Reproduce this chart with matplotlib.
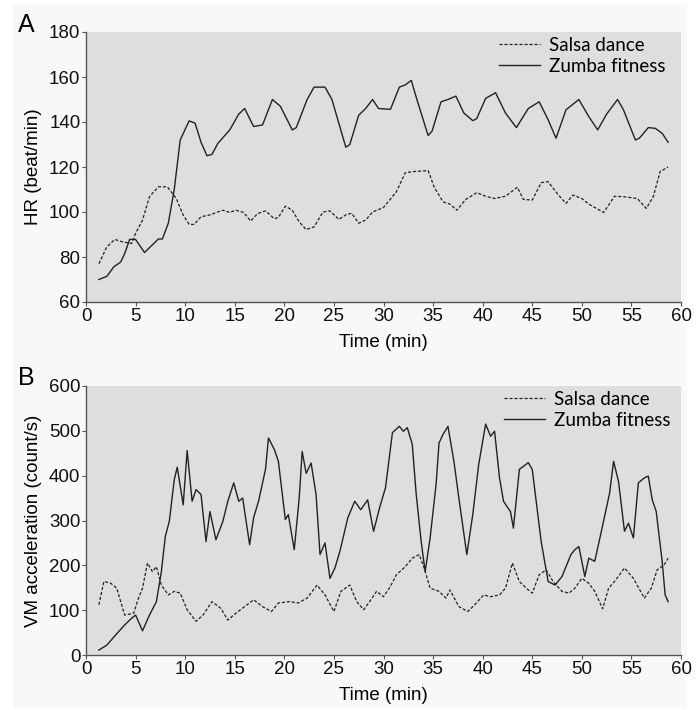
import matplotlib.pyplot as plt
from matplotlib.patches import Rectangle

# painel A - frequência cardíaca (HR)
hr_zumba_t = [1.3, 2.1, 2.8, 3.5, 3.9, 4.4, 5.0, 5.9, 6.6, 7.3, 7.7, 8.3, 8.9, 9.5, 10.4,
              11.0, 11.6, 12.2, 12.7, 13.3, 14.5, 15.4, 16.0, 16.9, 17.8, 18.8, 19.6, 20.8,
              21.2, 22.3, 23.0, 24.1, 24.8, 26.2, 26.6, 27.5, 28.2, 28.9, 29.5, 30.7, 31.6,
              32.2, 32.8, 33.3, 34.5, 34.9, 35.8, 36.5, 37.3, 38.1, 39.0, 39.4, 40.3, 41.3,
              42.3, 43.4, 44.6, 45.7, 46.6, 47.4, 48.4, 49.7, 50.7, 51.6, 52.5, 53.6, 54.2,
              55.4, 55.8, 56.7, 57.4, 58.1, 58.7]
hr_zumba = [70, 71.4, 75.6, 77.8, 81.5, 87.8, 87.8, 82, 85, 88, 88, 95, 110, 132, 140.5,
            139.5, 131, 125, 125.6, 130.5, 136.5, 143.5, 146, 138, 138.7, 150, 147, 136.5,
            137.5, 150, 155.5, 155.5, 150, 128.8, 130, 143, 146, 150, 146, 145.6, 155.5,
            156.5, 158.5, 151, 134, 136, 149, 150, 151.5, 144, 140.6, 141.5, 150.5, 153,
            144, 137.5, 146, 149, 141, 132.8, 145.4, 150, 142.4, 136.5, 143.5, 150, 145.4,
            132, 132.8, 137.5, 137.2, 135, 131]

hr_salsa_t = [1.3, 2.1, 2.9, 3.7, 4.6, 5.0, 5.7, 6.4, 7.3, 8.2, 9.1, 9.8, 10.4, 10.9, 11.6,
              12.4, 13.8, 14.5, 15.1, 15.9, 16.6, 17.3, 18.1, 19.0, 19.4, 20.1, 20.8, 21.5,
              22.2, 23.0, 23.9, 24.6, 25.5, 26.3, 26.8, 27.5, 28.2, 28.9, 30.0, 31.3, 32.2,
              33.1, 34.5, 35.1, 36.0, 36.7, 37.4, 38.3, 39.4, 40.3, 41.2, 42.3, 43.5, 44.1,
              45.0, 45.9, 46.6, 47.5, 48.4, 49.1, 50.0, 50.7, 52.2, 53.3, 54.2, 55.6, 56.5,
              57.2, 57.9, 58.7]
hr_salsa = [77, 84.5, 87.8, 86.7, 86, 90.5, 96.4, 106.8, 111.2, 111.2, 106, 98.6, 94.5, 94.5,
            97.9, 98.6, 100.8, 99.8, 100.8, 99.8, 96, 99.3, 100.5, 97, 97.6, 102.6, 100.8,
            95.6, 92.2, 93.4, 100, 100.5, 96.7, 99, 99.4, 95, 96.4, 100, 102, 109, 117.5,
            118, 118.4, 111.2, 104.5, 103.5, 100.8, 105.6, 108.6, 107, 106, 107, 111, 105.6,
            105.3, 113, 113.5, 108.3, 103.8, 107.5, 106, 103.5, 99.8, 107, 106.8, 106, 101.6,
            106.8, 118, 120]

# painel B - aceleração VM
vm_zumba_t = [1.3, 2.1, 3.0, 3.9, 4.6, 5.0, 5.7, 6.4, 7.1, 7.6, 8.0, 8.4, 8.9, 9.2, 9.8, 10.2,
              10.7, 11.1, 11.6, 12.1, 12.5, 13.1, 13.8, 14.3, 14.9, 15.4, 15.8, 16.5, 16.9,
              17.4, 18.1, 18.4, 19.0, 19.4, 20.1, 20.4, 21.0, 21.5, 21.8, 22.2, 22.7, 23.2,
              23.6, 24.1, 24.6, 25.1, 25.6, 26.4, 27.1, 27.7, 28.4, 29.0, 29.6, 30.2, 30.9,
              31.6, 32.0, 32.4, 32.9, 33.3, 33.8, 34.2, 34.7, 35.3, 35.6, 36.0, 36.5, 37.1,
              37.6, 38.4, 39.0, 39.6, 40.3, 40.8, 41.2, 41.7, 42.1, 42.8, 43.1, 43.7, 44.6,
              45.0, 45.9, 46.6, 47.3, 48.0, 48.9, 49.3, 49.7, 50.0, 50.3, 50.7, 51.3, 52.0,
              52.4, 52.8, 53.2, 53.7, 54.3, 54.7, 55.2, 55.7, 56.3, 56.7, 57.1, 57.5, 58.1,
              58.4, 58.7]
vm_zumba = [11, 22, 45, 67, 82, 89, 54, 89, 119, 186, 265, 298, 391, 419, 335, 456,
            343, 369, 358, 253, 320, 257, 298, 343, 384, 343, 350, 246, 306,
            343, 414, 484, 458, 432, 302, 313, 235, 350, 454, 405, 428, 358,
            224, 250, 171, 194, 231, 306, 343, 324, 346, 276, 328, 373, 496,
            510, 499, 507, 470, 358, 253, 186, 261, 380, 473, 492, 510, 432,
            350, 224, 313, 425, 515, 488, 499, 395, 343, 320, 283, 414, 429,
            414, 253, 164, 156, 175, 224, 235, 242, 209, 175, 216, 209, 279,
            320, 361, 432, 387, 276, 294, 261, 384, 395, 399, 346, 320, 209,
            134, 119]

vm_salsa_t = [1.3, 1.8, 2.5, 3.1, 3.9, 4.8, 5.3, 5.7, 6.2, 6.7, 7.1, 7.6, 8.3, 8.9, 9.5, 10.2,
              11.1, 11.8, 12.7, 13.6, 14.3, 15.1, 16.0, 16.9, 17.8, 18.7, 19.4, 20.5, 21.4,
              22.3, 23.3, 24.1, 25.0, 25.7, 26.6, 27.3, 28.0, 28.6, 29.3, 30.0, 30.7, 31.3,
              32.2, 32.9, 33.6, 34.1, 34.7, 35.6, 36.3, 36.7, 37.6, 38.5, 39.2, 40.1, 40.8,
              41.7, 42.3, 43.0, 43.7, 44.4, 45.0, 45.7, 46.4, 47.1, 48.0, 48.7, 49.3, 50.0,
              50.7, 51.3, 52.1, 52.7, 53.3, 54.3, 55.2, 56.3, 57.0, 57.6, 58.3, 58.7]
vm_salsa = [112, 164, 160, 149, 89, 93, 127, 149, 205, 186, 197, 156, 134, 142, 138, 101,
            75, 89, 119, 104, 78, 93, 108, 123, 108, 97, 116, 119, 116,
            127, 156, 134, 97, 142, 156, 119, 101, 119, 142, 130, 153, 179,
            197, 216, 224, 194, 149, 142, 127, 145, 108, 97, 112, 134, 130,
            134, 149, 205, 164, 149, 138, 179, 190, 164, 142, 138, 149, 171,
            160, 142, 103, 149, 164, 194, 171, 127, 149, 190, 201, 216]

fig = plt.figure(figsize=(6.98, 7.10), dpi=100)
fig.patch.set_facecolor('white')
fig.patches.append(Rectangle((13 / 698, 2 / 710), 674 / 698, 704 / 710,
                             transform=fig.transFigure, facecolor='#f8f8f8',
                             edgecolor='none', zorder=-10))

FS = 13.5
tick_font = {'family': 'Liberation Sans', 'size': FS}
leg_font = {'family': 'Lato', 'size': 13.5}


def montar(ax, ylim, yticks, ylabel):
    ax.set_facecolor('#dedede')
    ax.set_xlim(0, 60)
    ax.set_ylim(*ylim)
    ax.set_xticks(range(0, 61, 5))
    ax.set_yticks(yticks)
    for s in ['top', 'right']:
        ax.spines[s].set_visible(False)
    for s in ['left', 'bottom']:
        ax.spines[s].set_color('#555555')
        ax.spines[s].set_linewidth(1.0)
    ax.tick_params(direction='out', length=3, width=0.8, color='#555555', pad=1,
                   labelsize=FS, labelcolor='#111111')
    for lab in ax.get_xticklabels() + ax.get_yticklabels():
        lab.set_family('Liberation Sans')
    ax.set_xlabel('Time (min)', fontdict=tick_font, labelpad=7)
    ax.set_ylabel(ylabel, fontdict=tick_font, labelpad=5)


def legenda(ax, x):
    ax.legend(loc='upper right', bbox_to_anchor=(x, 1.045), frameon=False,
              prop=leg_font, handlelength=2.2, handletextpad=0.45, labelspacing=0.22)


# --- A ---
ax1 = fig.add_axes([86 / 698, 1 - 302 / 710, 595 / 698, 270 / 710])
ax1.plot(hr_salsa_t, hr_salsa, color='#222222', lw=0.9, ls=(0, (2.5, 1.5)), label='Salsa dance')
ax1.plot(hr_zumba_t, hr_zumba, color='#222222', lw=1.0, label='Zumba fitness')
montar(ax1, (60, 180), range(60, 181, 20), 'HR (beat/min)')
legenda(ax1, 1.002)
fig.text(18 / 698, 1 - 32 / 710, 'A', fontsize=18, family='Liberation Sans')

# --- B ---
ax2 = fig.add_axes([86 / 698, 1 - 655 / 710, 595 / 698, 269 / 710])
ax2.plot(vm_salsa_t, vm_salsa, color='#222222', lw=0.9, ls=(0, (2.5, 1.5)), label='Salsa dance')
ax2.plot(vm_zumba_t, vm_zumba, color='#222222', lw=1.0, label='Zumba fitness')
montar(ax2, (0, 600), range(0, 601, 100), 'VM acceleration (count/s)')
legenda(ax2, 1.01)
fig.text(18 / 698, 1 - 385 / 710, 'B', fontsize=18, family='Liberation Sans')

fig.savefig('out.png', dpi=100)
